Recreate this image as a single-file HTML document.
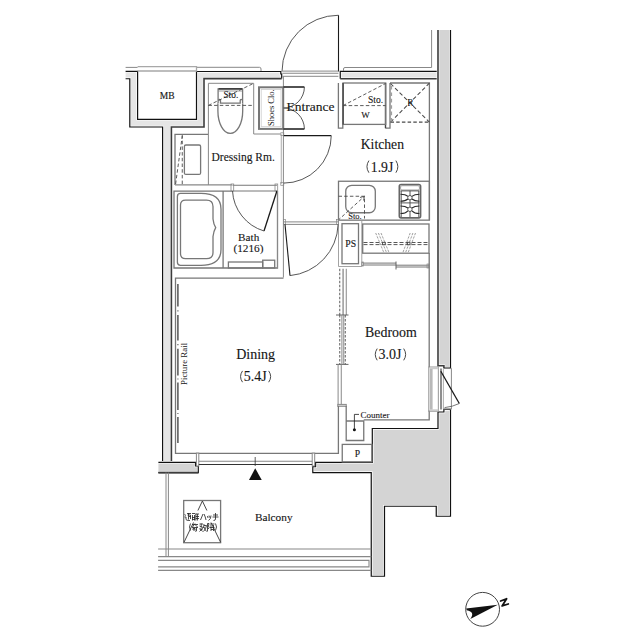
<!DOCTYPE html>
<html><head><meta charset="utf-8">
<style>
html,body{margin:0;padding:0;background:#fff;width:640px;height:640px;overflow:hidden}
svg{display:block}
text{font-family:"Liberation Serif",serif;fill:#161616}
.rn{stroke:#161616;stroke-width:0.12}
.par{fill:none;stroke:#333;stroke-width:0.9}
.w1{fill:#e5e5e5;stroke:none}
.w2{fill:#d4d4d4;stroke:none}
.halo{fill:none;stroke:#fff;stroke-width:2.8}
.k{fill:none;stroke:#111;stroke-width:1.2}
.kd{fill:none;stroke:#3c3c3c;stroke-width:1.6}
.t{fill:none;stroke:#888;stroke-width:1}
.t2{fill:none;stroke:#777;stroke-width:1.3}
.d{fill:none;stroke:#4a4a4a;stroke-width:0.9;stroke-dasharray:3.5 2.2}
.lk{fill:none;stroke:#1a1a1a;stroke-width:1.1}
</style></head><body>
<svg width="640" height="640" viewBox="0 0 640 640">
<!-- ===== WALLS ===== -->
<!-- thin wall top-left -->
<path class="w1" d="M125.6,71.3 H137.6 V119.4 H196.5 V71.5 H280.8 V74 H281.7 V78.6 H204 V127 H171.4 V462.3 H162.6 V127 H129.8 V78.75 H125.6 Z"/>
<path style="stroke-width:2.4" class="halo" d="M125.6,71.3 H137.6 V119.4 H196.5 V71.5 H280.8 V74 H281.7 V78.6 H204 V127 H171.4 V462.3 H162.6 V127 H129.8 V78.75 H125.6"/>
<path class="k" d="M125.6,71.3 H137.6 V119.4 H196.5 V71.5 H280.8 V74 H281.7 V78.6"/>
<path class="kd" d="M281.7,78.6 H204 V127 H171.4 V462.3"/>
<path class="k" d="M162.6,462.3 V127 H129.8 V78.75 H125.6"/>
<!-- balcony wall left piece -->
<path class="w2" d="M158.4,462.3 H195.5 V466 H198.3 V472.6 H158.4 Z"/>
<path style="stroke-width:2.4" class="halo" d="M158.4,462.3 H195.5 V466 H198.3 V472.6 H158.4"/>
<path class="k" d="M158.4,462.3 H195.5 V466 H198.3 V472.6 H158.4"/>
<path class="kd" d="M158.4,472.6 H198.3"/>
<!-- thin wall top-right -->
<path class="w1" d="M340.25,71.4 H438 V78.8 H340.25 Z"/>
<path style="stroke-width:2.4" class="halo" d="M340.25,71.4 H438 V78.8 H340.25 Z"/>
<path class="k" d="M340.25,78.8 V71.4 H438"/>
<path class="kd" d="M340.25,78.8 H438"/>
<!-- concrete right wall upper -->
<path class="w2" d="M438,30 V365.7 H443.9 V368.2 H450.5 V30 Z"/>
<path style="stroke-width:2.6" class="halo" d="M438,30 V365.7 H443.9 V368.2 H450.5 V30"/>
<path class="kd" d="M438,30 V365.7 H443.9 V368.2"/>
<path class="k" d="M443.9,368.2 H450.5 V30"/>
<!-- concrete lower block -->
<path class="w2" d="M438,412 H443.9 V409.4 H450.5 V516.25 H436.25 V506.25 H384.5 V576.25 H371.25 V472.6 H312.8 V466.6 H315.6 V462.3 H372.3 V428.5 H438 Z"/>
<path style="stroke-width:2.6" class="halo" d="M438,412 H443.9 V409.4 H450.5 V516.25 H436.25 V506.25 H384.5 V576.25 H371.25 V472.6 H312.8 V466.6 H315.6 V462.3 H372.3 V428.5 H438 Z"/>
<path class="k" d="M438,412 H443.9 V409.4 H450.5 V516.25 H436.25 V506.25 H384.5 V576.25 H371.25 V472.6 H312.8 V466.6 H315.6 V462.3 H372.3 V428.5 H438 Z"/>

<!-- eave thin lines -->
<path class="t" d="M125.6,67.4 H137.6 M196.5,67.3 H259.5 Q261,67.3 261,69 V71"/>
<path fill="none" stroke="#a8a8a8" stroke-width="1.3" d="M137.6,66.6 H196.5 V71 H137.6"/>
<path class="t" d="M343.5,71 V69 Q343.5,67.5 345,67.5 H431.6 V30"/>

<!-- ===== ENTRANCE ===== -->
<path class="lk" d="M338.5,15.25 V71.5"/>
<path fill="none" stroke="#444" stroke-width="0.9" d="M338.5,15.25 A56.5,56.5 0 0 0 282,71.5"/>
<path class="t" d="M282.4,71.1 H338.4 M282.4,73.25 H338.4 M282.4,76.3 H338.4"/>
<path class="t" d="M283.4,76.3 V277.5"/>


<!-- toilet room -->
<path class="t" d="M208.4,185 V83.3 H253.7 V134 H280.5"/>
<path class="t2" d="M218.1,103 V88.8 H242.6 V103"/>
<path fill="none" stroke="#222" stroke-width="1.3" d="M218.6,88.9 H242.1"/>
<path style="stroke-width:0.8" class="t" d="M218.6,91 H242.1"/>
<path class="t2" d="M218.1,100 L219.5,99.5 Q220.5,99.5 220.5,100.5 V103.2 H240.2 V100.5 Q240.2,99.5 241.2,99.5 L242.6,100"/>
<path class="t2" d="M217.9,103.2 V111 A12.4,22.4 0 0 0 242.7,111 V103.2"/>
<path class="d" d="M208.4,105.4 H253.7 M208.4,105.4 L253.7,83.3"/>
<text style="stroke-width:0.1" x="223.4" y="98.4" font-size="9.4" class="rn">Sto.</text>

<!-- shoes closet -->
<rect x="259" y="87.3" width="24.2" height="41.6" fill="none" stroke="#777" stroke-width="2"/>
<rect x="261.2" y="89.5" width="19.8" height="37.2" fill="none" stroke="#ccc" stroke-width="0.8"/>
<text transform="translate(273.75,126.1) rotate(-90)" font-size="8.5">Shoes Clo.</text>
<path style="stroke-width:1.3" class="lk" d="M283.5,87 H304.4 M283.5,129 H304.4"/>
<path fill="none" stroke="#444" stroke-width="0.9" d="M304.4,87 A21,21 0 0 1 283.5,108 M304.4,129 A21,21 0 0 0 283.5,108"/>
<path class="t" d="M283.75,108 H287"/>
<text x="286.6" y="110.8" font-size="13.5" class="rn">Entrance</text>

<!-- kitchen upper -->
<path class="t2" d="M338.4,83 V128.2 H342.8 V83"/>
<path class="t2" d="M390,83 V128.2 H385.4"/>
<path fill="none" stroke="#444" stroke-width="1.4" d="M385.5,83 V128.2"/>
<rect x="343" y="83" width="42.7" height="41.4" class="t2"/>
<path fill="none" stroke="#555" stroke-width="1.5" d="M343.2,83 V124.4"/>
<path class="d" d="M343,105.6 H385.6 M343,105.6 L385.6,83.5"/>
<text style="stroke-width:0.1" x="368" y="102.6" font-size="9.5" class="rn">Sto.</text>
<text style="stroke-width:0.1" x="361.3" y="118.2" font-size="9" class="rn">W</text>
<path class="t2" d="M390,83 H429.4 V220"/>
<path style="stroke-width:1.2" class="d" d="M390.5,122.1 H429.4"/>
<path style="stroke-width:1.05;stroke-dasharray:4 2.4" class="d" d="M390.5,83.5 L429.4,122.1 M390.5,122.1 L429.4,83.1"/>
<path fill="none" stroke="#a0a0a0" stroke-width="1.8" stroke-dasharray="3.6 2.8" d="M391.2,86 V122"/>
<text style="stroke-width:0.1" x="407.2" y="105.7" font-size="9.5" class="rn">R</text>
<text x="360.7" y="148.8" font-size="13.7" class="rn">Kitchen</text>
<path class="par" d="M368.9,160.6 Q365,166.65 368.9,172.7"/>
<text x="370.8" y="171.5" font-size="13.7" class="rn">1.9J</text>
<path class="par" d="M395.9,160.6 Q399.8,166.65 395.9,172.7"/>

<!-- counter -->
<rect x="338.5" y="181.25" width="90.9" height="38.9" class="t2"/>
<rect x="345.75" y="185.3" width="29.55" height="27.45" rx="6" class="t2"/>
<path class="d" d="M338.5,196.25 H364.5 V218.5 M337.8,220.5 L364.5,196.25"/>
<path fill="none" stroke="#555" stroke-width="0.9" d="M360,197.5 L364.5,196.25 L363.5,200.5"/>
<text style="stroke-width:0.1" x="348.2" y="218.8" font-size="8.5" class="rn">Sto.</text>
<rect x="399.3" y="184.5" width="21.3" height="33.4" rx="1.8" fill="none" stroke="#666" stroke-width="1.6"/>
<rect style="stroke-width:0.8" x="400.6" y="185.7" width="18.8" height="4.3" rx="1.2" class="t"/>
<path fill="none" stroke="#444" stroke-width="0.9" d="M400.5,190.9 H419.4 M400.5,202.9 H419.4 M410,190.9 V217 M401.2,191 V217 M418.8,191 V217"/>
<circle cx="409.9" cy="197.7" r="2.2" fill="#fff" stroke="#444" stroke-width="0.9"/>
<circle cx="409.9" cy="209.3" r="2.2" fill="#fff" stroke="#444" stroke-width="0.9"/>
<path fill="none" stroke="#2a2a2a" stroke-width="1.1" d="M400.5,194.3 Q405.5,194.3 407.9,196.4 M419.4,194.3 Q414.5,194.3 411.9,196.4 M400.5,201.3 Q405.5,201.3 407.9,199 M419.4,201.3 Q414.5,201.3 411.9,199 M400.5,206 Q405.5,206 407.9,208 M419.4,206 Q414.5,206 411.9,208 M400.5,213.5 Q405.5,213.5 407.9,210.8 M419.4,213.5 Q414.5,213.5 411.9,210.8"/>

<!-- PS & closet -->
<path fill="none" stroke="#999" stroke-width="0.9" d="M338.5,220.2 V266.5 H361.8 V220.2"/>
<rect x="342" y="223.7" width="16.5" height="40" class="t2"/>
<text style="stroke-width:0.15" x="345.3" y="246.9" font-size="9.7" class="rn">PS</text>
<rect x="362.7" y="224" width="66.3" height="29.2" class="t2"/>
<path fill="none" stroke="#444" stroke-width="0.9" stroke-dasharray="4 2" d="M363.5,242.5 H429 M363.5,244.6 H429"/>
<path fill="none" stroke="#777" stroke-width="0.7" stroke-dasharray="2.4 1.2" d="M375.7,233 L384,253 M378.4,233 L386.7,253 M381,233 L389.2,253 M410.2,233 L402.7,253 M412.9,233 L405.4,253 M415.5,233 L408,253"/>
<rect x="382.6" y="242.3" width="2.6" height="2.4" fill="#fff" stroke="#444" stroke-width="0.9"/>
<rect x="407.4" y="242.3" width="2.6" height="2.4" fill="#fff" stroke="#444" stroke-width="0.9"/>
<path fill="none" stroke="#666" stroke-width="0.9" d="M362.7,263.1 H396 M362.7,265 H396 M396,265.2 H429 M396,267 H429"/>
<rect style="stroke-width:0.7" x="361.8" y="262" width="1.8" height="4" class="t"/>
<rect style="stroke-width:0.7" x="427" y="264" width="2" height="4" class="t"/>
<path fill="none" stroke="#555" stroke-width="0.9" d="M396,261.5 V269.5"/>
<path class="t2" d="M429.2,253 V367.2 M429.2,410.4 V419.8 H363.75"/>

<!-- dining door -->
<path fill="none" stroke="#777" stroke-width="0.9" d="M283.75,221.9 H338.1 M283.75,224.4 H338.1"/>
<rect style="stroke-width:0.7" x="283.5" y="219.5" width="2" height="5" class="t"/>
<rect style="stroke-width:0.7" x="336.5" y="219.5" width="2" height="5" class="t"/>
<path class="lk" d="M285,224.4 L290,275.6"/>
<path fill="none" stroke="#444" stroke-width="0.9" d="M338.1,224.4 A53,53 0 0 1 290,275.6"/>

<!-- partition sliding -->
<path style="stroke-dasharray:2.5 1.5" class="d" d="M339.75,268.75 V315 M339.75,315 V364.4 M345.25,315 V364.4"/>
<path fill="none" stroke="#999" stroke-width="1.5" d="M343.1,268.75 V315"/>
<path class="t" d="M346.25,268.75 V315"/>
<path fill="none" stroke="#555" stroke-width="0.9" d="M336,315 H348.5 M336,364.4 H348.5"/>
<path class="t" d="M341.9,315 V364.4 M343.75,315 V364.4"/>
<path class="t" d="M338.1,364.4 V404.4 M341.25,364.4 V404.4"/>
<rect style="fill:#ddd" x="337.75" y="404.4" width="8.5" height="1.9" class="t"/>
<path class="t2" d="M338.4,406 V453.3 H175.5 V278.1 H283.5"/>
<path class="t2" d="M346.2,406 V440.5 H363.75 V421 H346.2"/>
<circle cx="354.4" cy="429.8" r="1.5" fill="#111"/>
<path style="stroke-width:0.8" class="lk" d="M354.4,429.8 V414.4 H359"/>
<text style="stroke-width:0.1" x="360.6" y="417.9" font-size="9" class="rn">Counter</text>
<rect x="342.25" y="444.4" width="29.65" height="17.5" class="t2"/>
<text style="stroke-width:0.1" x="354.7" y="456.9" font-size="9.6" class="rn">P</text>

<!-- window right -->
<rect x="428.8" y="367" width="9.5" height="44.3" fill="none" stroke="#8a8a8a" stroke-width="0.9"/>
<rect x="429.6" y="367.2" width="8.6" height="2" fill="#ccc"/>
<rect x="429.6" y="409.3" width="8.6" height="2" fill="#ccc"/>
<rect x="429.8" y="369" width="2.8" height="40.5" fill="#b8b8b8"/>
<path fill="none" stroke="#999" stroke-width="0.8" d="M443.4,368.4 V409.1"/>
<path fill="none" stroke="#333" stroke-width="1.1" d="M441,368.5 V409.5"/>
<path class="t" d="M443.9,368.4 H451.4 V409.1 H443.9"/>
<path style="stroke-width:1.3" class="lk" d="M440.8,371.3 L459.3,403.5"/>
<path fill="none" stroke="#555" stroke-width="0.8" d="M459.3,403.5 Q452.5,406.8 444.6,407.6"/>

<!-- dressing room -->
<path class="t2" d="M175,185 V134.4 H208"/>
<path fill="none" stroke="#888" stroke-width="1.4" d="M175,184.9 H232"/>
<rect x="184.4" y="145" width="16.2" height="29.4" rx="1.5" class="t2"/>
<path class="d" d="M182.25,135 V185 M175.6,184 L182.25,136"/>
<path fill="none" stroke="#aaa" stroke-width="1" d="M281.25,134.4 V183.75"/>
<rect style="stroke-width:0.7" x="280.8" y="132.8" width="3" height="2.8" class="t"/>
<rect style="stroke-width:0.7" x="280.8" y="182.5" width="3" height="2.8" class="t"/>
<path style="stroke-width:1.3" class="lk" d="M283.75,135.6 H331.25"/>
<path fill="none" stroke="#444" stroke-width="0.9" d="M331.25,135.6 A47.5,47.5 0 0 1 283.75,183.1"/>
<text x="211.55" y="160.6" font-size="11.5" class="rn">Dressing Rm.</text>

<!-- bath -->
<path class="t2" d="M232,191.1 H174 V268 H277.5 V191"/>
<path fill="none" stroke="#777" stroke-width="1" d="M232.5,185.25 H276.9 M232.5,191 H276.9"/>
<rect style="stroke-width:0.8" x="231" y="184" width="2.7" height="7" class="t"/>
<rect style="stroke-width:0.8" x="275" y="184" width="2.7" height="7" class="t"/>
<path class="t2" d="M223.1,191.1 V268"/>
<path class="t2" d="M180.5,193.4 H201 Q221,193.4 221,209 V249.5 Q221,265.3 201,265.3 H180.5 Q177.4,265.3 177.4,262.3 V196.4 Q177.4,193.4 180.5,193.4 Z"/>
<path class="t2" d="M185.5,200.1 H206.5 Q213,200.1 213,206.5 V219 Q213.5,224 215.7,227.7 Q213.5,231.5 213,236.5 V252.6 Q213,258.6 206.5,258.6 H185.5 Q180.5,258.6 180.5,253.6 V205.1 Q180.5,200.1 185.5,200.1 Z"/>
<rect x="228.4" y="262" width="34.3" height="6" class="t2"/>
<rect x="262.7" y="260.2" width="12" height="7.8" class="t2"/>
<path style="stroke-width:1.3" class="lk" d="M276.9,191 L264,231"/>
<path fill="none" stroke="#444" stroke-width="0.9" d="M232.5,191 A44.4,44.4 0 0 0 264,231"/>
<path class="t" d="M277.5,191 V268"/>
<text x="238.1" y="240.5" font-size="11.2" class="rn">Bath</text>
<text x="233.4" y="251.75" font-size="11.3" class="rn">(1216)</text>

<!-- MB -->
<text style="stroke-width:0.15" x="159.7" y="99.4" font-size="9.5" class="rn">MB</text>

<!-- dining -->
<path fill="none" stroke="#555" stroke-width="1.5" d="M177.9,284.1 V306.6 M177.9,315.1 V340.4 M177.9,348.8 V375.5 M177.9,382.6 V410 M177.9,417 V443"/>
<path fill="none" stroke="#666" stroke-width="1.2" d="M177.9,310.3 V311.5 M177.9,344 V345.2 M177.9,378.4 V379.6 M177.9,412.9 V414.1"/>
<text transform="translate(187.3,385) rotate(-90)" font-size="8.9">Picture Rail</text>
<text x="236.2" y="358.6" font-size="14" class="rn">Dining</text>
<path class="par" d="M242.5,370.9 Q238.6,376.55 242.5,382.2"/>
<text x="243.66" y="381" font-size="14" class="rn">5.4J</text>
<path class="par" d="M268.7,370.9 Q272.6,376.55 268.7,382.2"/>
<text x="365" y="336.9" font-size="13.9" class="rn">Bedroom</text>
<path class="par" d="M377.2,348.6 Q373.3,354.45 377.2,360.3"/>
<text x="378.5" y="359" font-size="14" class="rn">3.0J</text>
<path class="par" d="M403.7,348.6 Q407.6,354.45 403.7,360.3"/>

<!-- balcony door -->
<rect style="fill:#fff" x="196.4" y="453.1" width="2.4" height="12.9" class="t"/>
<rect style="fill:#fff" x="312.2" y="453.1" width="2.5" height="12.9" class="t"/>
<path class="t" d="M198.8,461.25 H312.2"/>
<path fill="none" stroke="#333" stroke-width="1.1" d="M198.8,464.5 H312.2"/>
<path fill="none" stroke="#333" stroke-width="0.8" d="M255.2,457 V466"/>
<path d="M255.2,468.3 L249,480 H261.75 Z" fill="#111"/>

<!-- balcony -->
<path class="t" d="M166,472.6 V556.6 M168.4,472.6 V556.6"/>
<path fill="none" stroke="#888" stroke-width="1.1" d="M158.1,549 H371.25 M158.1,556.6 H371.25 M158.1,560.4 H369 V566.9 H158.1 M158.1,570.4 H371.25"/>
<rect x="183.7" y="500.5" width="36.9" height="42.2" class="t2"/>
<path fill="none" stroke="#333" stroke-width="0.9" d="M202.4,501 L197.9,510.5 M202.4,501 L206.9,510.5 M193.5,522.5 L184,542.3 M211,522.5 L220.6,542.3"/>
<g fill="none" stroke="#2a2a2a" stroke-width="0.85">
<!-- row1: 避難ハッチ -->
<path d="M184.5,514.5 L186,515.5 M184.5,517 H186 V519.5 Q186,520.5 190,520.5 M187,513.5 H191 M187.5,515 H190.5 V519 M188.5,513 V519.5 M189,516.5 H191"/>
<path d="M192,513.5 H195 M192.5,515 V520.5 M194.5,515 V520.5 M192,517.5 H195 M192,519.5 H195 M195.8,513.5 V520.5 M195.8,514 H199 M195.8,516.5 H199 M195.8,518.5 H199 M197.4,514 V520.5"/>
<path d="M200.5,520 L203,514 M204,514 Q205.5,517 206,520"/>
<path d="M207.5,516 L208,518 M209,515.5 L209.5,517.5 M211,515.5 Q211,519 208.5,520.5"/>
<path d="M213,515 H218 M215.5,513 V519 Q215.5,520.5 213.5,520.5 M212.5,517 H218.5"/>
<!-- row2: (奇数階) -->
<path d="M190.5,523.5 Q188.5,527 190.5,530.5"/>
<path d="M192,524.5 H198 M195,523.5 L192.5,527 M195,524.5 L197.5,527 M192,527.5 H198 M196.5,527.5 V531 Q196.5,531.5 195,531 M193,528.5 H195 V530 H193 Z"/>
<path d="M199.5,524 H203 M201.2,523.5 V527.5 M199.5,526 L203,527.5 M199.5,529 H203 M200,528.5 L202.5,531.5 M202.5,528.5 L199.5,531.5 M204,524 L203.5,528 M204,525.5 H206.5 Q206,529 203.5,531.5 M204,527 Q205,530 206.5,531.5"/>
<path d="M207.5,523.5 V531.5 M207.5,523.5 H209 L208.5,526 Q210,528 208,529 M210,524 H214.5 M211,525 V531 M213.5,525 V531 M210,527.5 H214.5 M211,529.5 H213.5"/>
<path d="M215.5,523.5 Q217.5,527 215.5,530.5"/>
</g>
<text x="254.9" y="521" font-size="11.3" class="rn">Balcony</text>

<!-- compass -->
<circle cx="482.6" cy="609.3" r="16.9" fill="none" stroke="#444" stroke-width="1"/>
<path d="M497.8,604.7 L466.2,608.4 L466.7,610.2 Q475.5,612 470.3,618.9 Z" fill="#111"/>
<path fill="none" stroke="#111" stroke-width="1.8" stroke-linejoin="round" stroke-linecap="round" d="M500.6,601 L506.6,598.8 L502.1,605.9 L508.3,604"/>
</svg>
</body></html>
